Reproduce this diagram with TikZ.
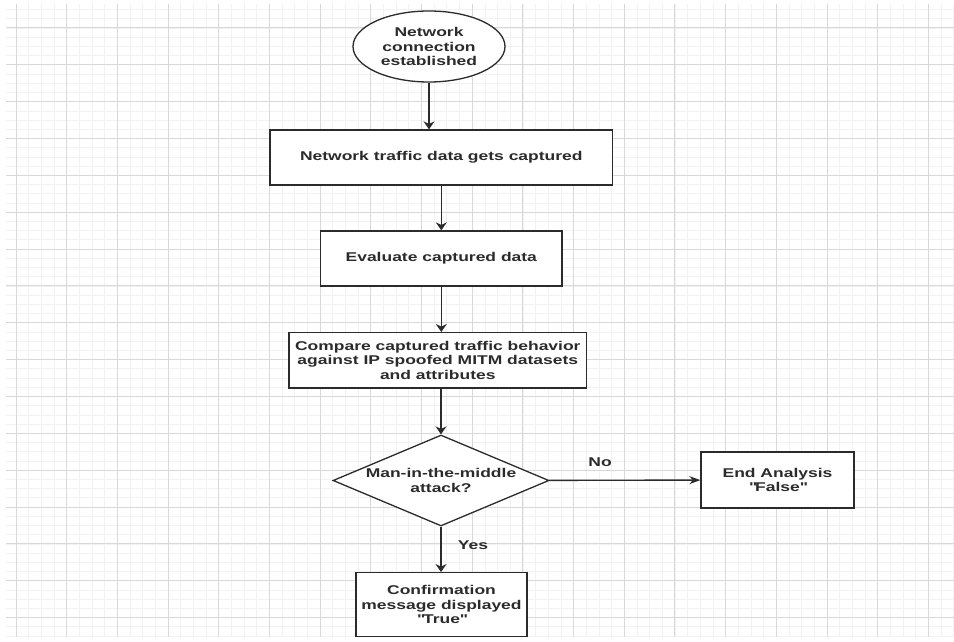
\documentclass[tikz,border=0pt]{standalone}
\usepackage{fontspec}
\setmainfont{Liberation Sans}[FakeStretch=1.376]
\usetikzlibrary{shapes.geometric,arrows.meta}
\definecolor{gridminor}{HTML}{F2F2F2}
\definecolor{gridmajor}{HTML}{D8D8D8}
\definecolor{ink}{HTML}{2B2B2B}
\tikzstyle{process}=[rectangle,draw=ink,line width=1.3bp,fill=white,inner sep=0pt,align=center]
\tikzstyle{terminal}=[ellipse,draw=ink,line width=1.3bp,fill=white,inner sep=0pt,align=center]
\tikzstyle{decision}=[diamond,draw=ink,line width=1.3bp,fill=white,inner sep=0pt,align=center,shape aspect=2.37]
\tikzstyle{flow}=[draw=ink,line width=1.4bp,-{Stealth[length=8bp,width=11bp]}]
\tikzstyle{sideflow}=[draw=ink,line width=1.4bp,-{Stealth[length=11bp,width=8bp]}]
\tikzstyle{answer}=[inner sep=1bp,text=ink]

\begin{document}
\begin{tikzpicture}[x=1bp,y=-1bp,font=\fontsize{12.7bp}{14.5bp}\selectfont\bfseries,text=ink]
\useasboundingbox (0,0) rectangle (954,642);
% grid
\foreach \k in {0,...,74}
  \draw[gridminor,line width=0.8bp] ({16+\k*12.673},4) -- ({16+\k*12.673},637);
\foreach \k in {-2,...,66}
  \draw[gridminor,line width=0.8bp] (6,{28+\k*9.2125}) -- (954,{28+\k*9.2125});
\foreach \k in {0,...,18}
  \draw[gridmajor,line width=1bp] ({16+\k*50.69},4) -- ({16+\k*50.69},637);
\foreach \k in {0,...,16}
  \draw[gridmajor,line width=1bp] (6,{28+\k*36.85}) -- (954,{28+\k*36.85});
% flowchart
\node[terminal,minimum width=152bp,minimum height=71bp] (start) at (429,46.5) {Network\\connection\\established};
\node[process,minimum width=342.7bp,minimum height=55bp] (capture) at (441.3,157.5) {Network traffic data gets captured};
\node[process,minimum width=241.3bp,minimum height=55bp] (evaluate) at (441.3,258.5) {Evaluate captured data};
\node[process,minimum width=297.7bp,minimum height=55.3bp] (compare) at (437.8,360.3) {Compare captured traffic behavior\\against IP spoofed MITM datasets\\and attributes};
\node[decision,minimum width=216bp,minimum height=91bp] (mitm) at (441,480.5) {Man-in-the-middle\\attack?};
\node[process,minimum width=153bp,minimum height=56bp] (endfalse) at (777.5,480) {End Analysis\\\textquotedbl False\textquotedbl};
\node[process,minimum width=171bp,minimum height=64bp] (confirm) at (441.5,604.7) {Confirmation\\message displayed\\\textquotedbl True\textquotedbl};
\draw[flow] (start) -- (start |- capture.north);
\draw[flow] (capture) -- (evaluate);
\draw[flow] (evaluate.south) -- (evaluate.south |- compare.north);
\draw[flow] (mitm.north |- compare.south) -- (mitm);
\draw[sideflow] (mitm) -- node[answer,pos=0.336,yshift=18bp] (no) {No} (endfalse);
\draw[flow] (mitm.south) -- node[answer,pos=0.41,xshift=32bp] (yes) {Yes} (mitm.south |- confirm.north);
\end{tikzpicture}
\end{document}
